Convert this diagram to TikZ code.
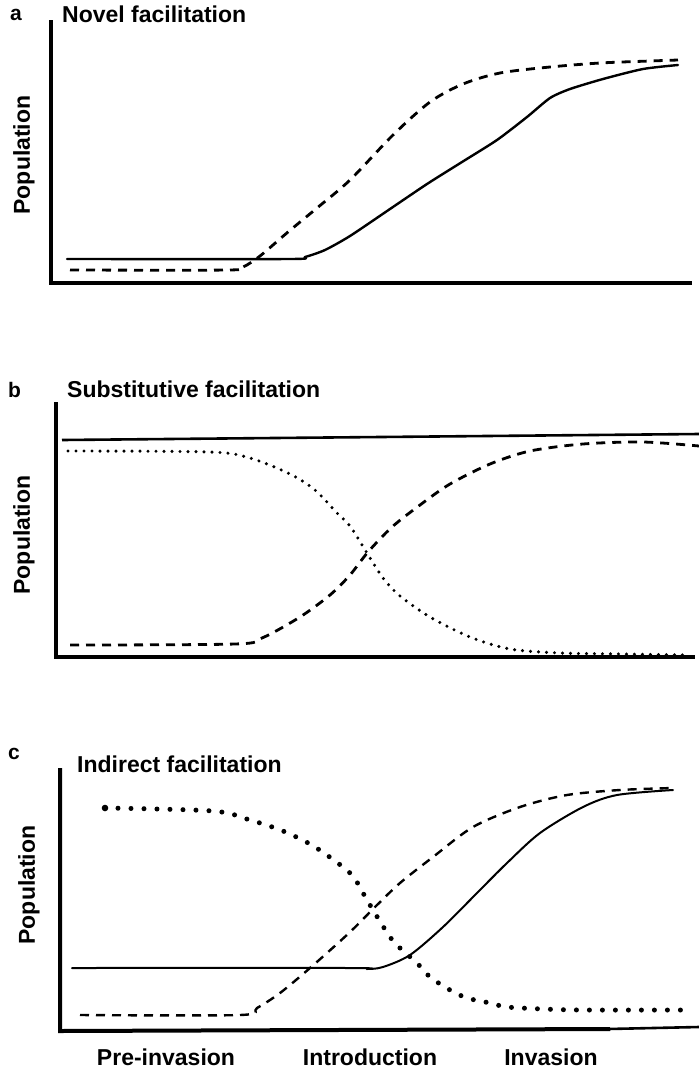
\documentclass[tikz,border=0pt]{standalone}
\usepackage{fontspec}
\setmainfont{Liberation Sans}
\begin{document}
\begin{tikzpicture}[x=1pt,y=-1pt,
  ttl/.style={font=\fontsize{23}{26}\selectfont\bfseries, anchor=base west, inner sep=0pt},
  lbl/.style={font=\fontsize{21}{23}\selectfont\bfseries, anchor=base west, inner sep=0pt},
  ylab/.style={font=\fontsize{23}{26}\selectfont\bfseries, rotate=90, inner sep=0pt},
  xlab/.style={font=\fontsize{23}{26}\selectfont\bfseries, anchor=base, inner sep=0pt},
  axisline/.style={line width=4pt, line join=miter},
  solidc/.style={line width=2.4pt, line join=round, line cap=round},
  dashc/.style={line width=2.8pt, dash pattern=on 9pt off 7pt},
  dotb/.style={line width=3.4pt, line cap=round, dash pattern=on 0pt off 8pt},
  dotc/.style={line width=5pt, line cap=round, dash pattern=on 0pt off 13pt},
]
\useasboundingbox (0,0) rectangle (699,1072);

% ---------- Panel a ----------
\node[lbl] (la) at (10,20) {a};
\node[ttl] (ta) at (62,22) {Novel facilitation};
\node[ylab] (ya) at (24,155) {Population};
\draw[axisline] (51,20) -- (51,283) -- (692,283);
\draw[solidc] plot[smooth, tension=0.4] coordinates {(67,259) (290,259) (305,257) (325,250) (350,236) (390,209) (427,184) (462,162) (497,140) (527,117) (550,98) (570,89) (603,79) (643,69) (678,65)};
\draw[dashc] plot[smooth, tension=0.5] coordinates {(70,270) (228,270) (243,267) (260,256) (288,232) (317,208) (350,180) (393,135) (430,102) (463,84) (500,73) (550,67) (600,63) (650,61) (678,60)};

% ---------- Panel b ----------
\node[lbl] (lb) at (8,397) {b};
\node[ttl] (tb) at (67,397) {Substitutive facilitation};
\node[ylab] (yb) at (24,535) {Population};
\draw[axisline] (56,402) -- (56,657) -- (695,657);
\draw[line width=2.6pt] (62,440) -- (699,434);
\draw[dotb] plot[smooth, tension=0.5] coordinates {(68,451) (210,452) (250,458) (290,474) (315,490) (337,513) (350,526) (367,553) (383,578) (400,596) (430,617) (470,637) (510,649) (560,653) (620,654) (690,655)};
\draw[dashc] plot[smooth, tension=0.5] coordinates {(70,645) (235,644) (262,638) (300,617) (330,595) (350,575) (368,552) (392,527) (420,505) (450,484) (490,464) (530,451) (583,444) (643,442) (699,446)};

% ---------- Panel c ----------
\node[lbl] (lc) at (8,759) {c};
\node[ttl] (tc) at (77,772) {Indirect facilitation};
\node[ylab] (yc) at (29,885) {Population};
\draw[axisline] (60,768) -- (60,1031) -- (610,1029);
\draw[line width=2.6pt] (608,1029) -- (699,1027);
\draw[line width=2pt, line join=round, line cap=round] plot[smooth, tension=0.5] coordinates {(72,968) (350,968) (367,969) (383,967) (410,955) (443,927) (477,893) (507,863) (540,833) (583,807) (617,795) (673,790)};
\draw[line width=2.4pt, dash pattern=on 9pt off 7pt] plot[smooth, tension=0.5] coordinates {(80,1015) (240,1015) (257,1008) (280,993) (310,968) (349,933) (375,907) (400,883) (433,857) (473,827) (520,807) (567,795) (620,790) (673,788)};
\draw[dotc] plot[smooth, tension=0.5] coordinates {(105,808) (213,811) (250,820) (283,831) (315,847) (350,873) (363,893) (373,910) (390,937) (400,948) (417,963) (430,977) (450,990) (467,998) (490,1003) (507,1007) (543,1009) (583,1010) (690,1010)};
\fill (105,808) circle (3.3pt);

\node[xlab] (x1) at (166,1065) {Pre-invasion};
\node[xlab] (x2) at (370,1065) {Introduction};
\node[xlab] (x3) at (551,1065) {Invasion};
\end{tikzpicture}
\end{document}
